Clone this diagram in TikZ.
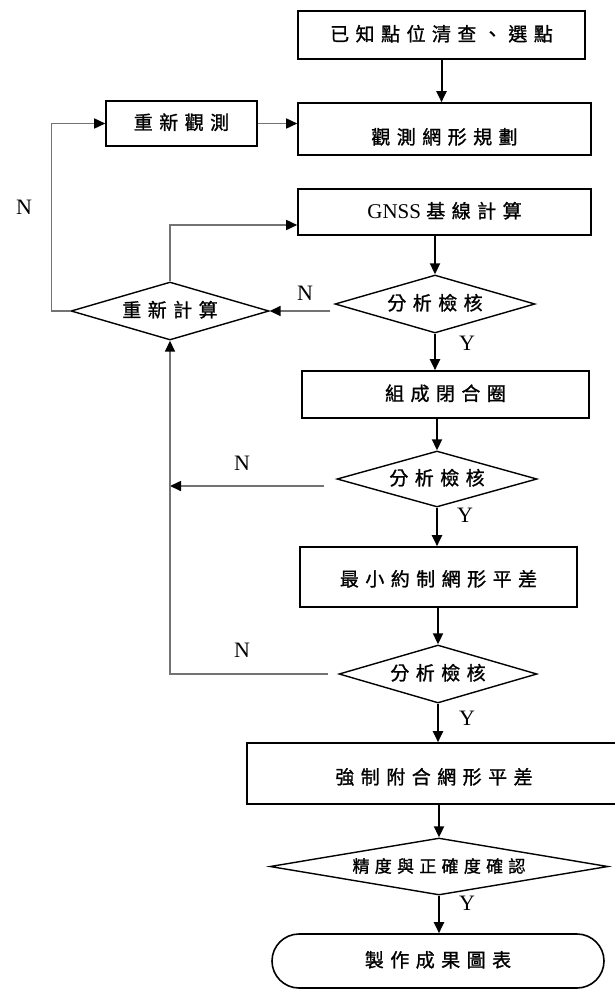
\documentclass[tikz,border=0pt]{standalone}
\usepackage{fontspec}
\setmainfont{Liberation Serif}
\newfontfamily\cjk[LetterSpace=34,FakeBold=1.2]{Noto Sans CJK TC}
\newfontfamily\cjknarrow[LetterSpace=31,FakeBold=1.2]{Noto Sans CJK TC}
\usetikzlibrary{shapes.geometric,arrows.meta,calc}
\begin{document}
\begin{tikzpicture}[x=1pt,y=-1pt,
  box/.style={draw=black, line width=1.6pt, inner sep=0pt,
    font=\cjk\fontsize{19}{19}\selectfont, text height=14pt, text depth=2pt},
  dia/.style={diamond, draw=black, line width=1.4pt, inner sep=0pt, shape aspect=3.5,
    font=\cjk\fontsize{19}{19}\selectfont, text height=14pt, text depth=2pt},
  arr/.style={line width=2pt, -{Triangle[length=11pt,width=10pt]}},
  garr/.style={line width=1.6pt, draw={rgb,1:red,0.45;green,0.45;blue,0.45},
    -{Triangle[length=11pt,width=10pt,color=black]}},
  lab/.style={font=\fontsize{22}{22}\selectfont, inner sep=0pt}
]
\useasboundingbox (0,0) rectangle (614,991);

% boxes
\node[box, minimum width=287pt, minimum height=48pt] (b1) at (441.5,35) {已知點位清查、選點};
\node[box, minimum width=151pt, minimum height=45pt] (r) at (181.5,123.5) {重新觀測};
\node[box, minimum width=293pt, minimum height=52pt, text height=32pt] (b2) at (444.5,129) {觀測網形規劃};
\node[box, minimum width=293pt, minimum height=46pt] (b3) at (444.5,212) {{\fontspec{Liberation Serif}\fontsize{21}{21}\selectfont GNSS }基線計算};
\node[dia, minimum width=200pt, minimum height=58pt] (d1) at (435,304) {分析檢核};
\node[dia, minimum width=198pt, minimum height=58pt] (rc) at (170,311) {重新計算};
\node[box, minimum width=287pt, minimum height=47pt] (b4) at (445.5,394.5) {組成閉合圈};
\node[dia, minimum width=200pt, minimum height=56pt] (d2) at (437,479) {分析檢核};
\node[box, minimum width=277pt, minimum height=60pt, text height=20pt] (b5) at (438.5,577) {最小約制網形平差};
\node[dia, minimum width=198pt, minimum height=58pt] (d3) at (438,674) {分析檢核};
\node[box, minimum width=374pt, minimum height=61pt, text height=23pt] (b6) at (434,773.5) {強制附合網形平差};
\node[dia, minimum width=338pt, minimum height=57pt, shape aspect=5.9,
  font=\cjknarrow\fontsize{17}{17}\selectfont] (d4) at (439,866.5) {精度與正確度確認};
\node[draw=black, line width=1.6pt, rounded corners=27pt, inner sep=0pt,
  minimum width=332pt, minimum height=54pt,
  font=\cjk\fontsize{19}{19}\selectfont, text height=14pt, text depth=2pt] (end) at (438,961) {製作成果圖表};

% main flow
\draw[arr] (b1.south) -- (b1.south |- b2.north);
\draw[garr] (r.east) -- (r.east -| b2.west);
\draw[arr] (d1.north |- b3.south) -- (d1.north);
\draw[arr] (d1.south) -- (d1.south |- b4.north);
\draw[arr] (d2.north |- b4.south) -- (d2.north);
\draw[arr] (d2.south) -- (d2.south |- b5.north);
\draw[arr] (d3.north |- b5.south) -- (d3.north);
\draw[arr] (d3.south) -- (d3.south |- b6.north);
\draw[arr] (d4.north |- b6.south) -- (d4.north);
\draw[arr] (d4.south) -- (d4.south |- end.north);

% loops
\draw[garr] (rc.west) -- ++(-19,0) |- (r.west);
\draw[garr] (rc.north) |- ([yshift=-13pt]b3.west);
\draw[garr] ([xshift=-4pt]d1.west |- rc.east) -- (rc.east);
\draw[garr] ([xshift=-12pt,yshift=-7pt]d2.west) -- ([yshift=-7pt]d2.west -| rc.south);
\draw[garr] ([xshift=-10pt]d3.west) -- (d3.west -| rc.south) -- (rc.south);

% labels
\node[lab] (n1) at (24,207) {N};
\node[lab] (n2) at (305,293) {N};
\node[lab] (n3) at (242,463) {N};
\node[lab] (n4) at (242,650) {N};
\node[lab] (y1) at (467,343) {Y};
\node[lab] (y2) at (465,515) {Y};
\node[lab] (y3) at (467,718) {Y};
\node[lab] (y4) at (467,903) {Y};
\end{tikzpicture}
\end{document}
